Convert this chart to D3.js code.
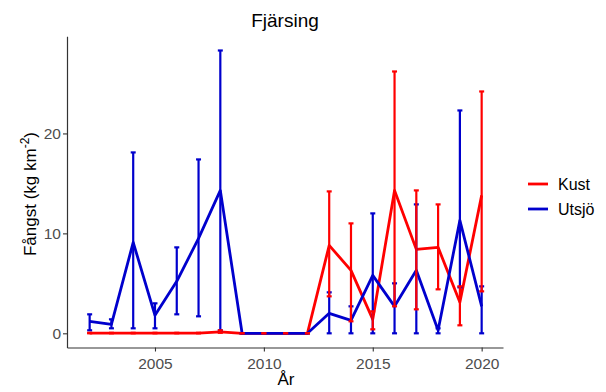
<!DOCTYPE html>
<html>
<head>
<meta charset="utf-8">
<script src="https://cdn.jsdelivr.net/npm/d3@7"></script>
<style>
  body { margin: 0; background: #fff; }
  text { font-family: "Liberation Sans", Arial, sans-serif; }
</style>
</head>
<body>
<svg width="606" height="392"></svg>
<script>
// data
const years = [2002, 2003, 2004, 2005, 2006, 2007, 2008, 2009, 2010, 2011,
               2012, 2013, 2014, 2015, 2016, 2017, 2018, 2019, 2020];
const kust   = [0.02, 0.02, 0.02, 0.02, 0.02, 0.02, 0.15, 0, 0, 0, 0, 8.8, 6.3, 1.4, 14.3, 8.4, 8.6, 3.1, 13.8];
const kustLo = [0, 0, 0, 0, 0, 0, 0.05, 0, 0, 0, 0, 3.7, 1.2, 0.4, 2.7, 2.4, 4.4, 0.8, 4.2];
const kustHi = [0.05, 0.05, 0.05, 0.05, 0.05, 0.05, 0.3, 0, 0, 0, 0, 14.2, 11.0, 2.2, 26.2, 14.3, 12.9, 4.7, 24.2];
const utsjo   = [1.2, 0.9, 9.1, 1.8, 5.2, 9.5, 14.3, 0, 0, 0, 0, 2.0, 1.3, 5.8, 2.7, 6.3, 0.3, 11.3, 2.7];
const utsjoLo = [0.3, 0.5, 0.5, 0.5, 1.9, 1.7, 0.3, 0, 0, 0, 0, 0, 0, 0, 0, 0, 0, 4.6, 0];
const utsjoHi = [1.9, 1.4, 18.1, 3.0, 8.6, 17.4, 28.3, 0, 0, 0, 0, 4.1, 2.7, 12.0, 5.0, 12.9, 0.5, 22.3, 4.7];
const yTicks = [0, 10, 20];
const xTicks = [2005, 2010, 2015, 2020];

const series = [
  { name: "Kust",  color: "#ff0000", v: kust,  lo: kustLo,  hi: kustHi },
  { name: "Utsjö", color: "#0000cd", v: utsjo, lo: utsjoLo, hi: utsjoHi }
];

const svg = d3.select("svg");
const x = d3.scaleLinear().domain([2000.96, 2020.98]).range([67, 503]);
const y = d3.scaleLinear().domain([-1.42, 29.72]).range([347.5, 36.3]);

// lines: red first, blue on top
const line = d3.line().x((d, i) => x(years[i])).y(d => y(d));
series.forEach(s => {
  svg.append("path")
    .attr("d", line(s.v))
    .attr("fill", "none")
    .attr("stroke", s.color)
    .attr("stroke-width", 2.8)
    .attr("stroke-linejoin", "round");
});

// error bars: blue first, then red on top
[series[1], series[0]].forEach(s => {
  const g = svg.append("g").attr("stroke", s.color).attr("stroke-width", 2.2);
  years.forEach((yr, i) => {
    const cx = x(yr);
    g.append("line").attr("x1", cx).attr("x2", cx).attr("y1", y(s.lo[i])).attr("y2", y(s.hi[i]));
    g.append("line").attr("x1", cx - 2.5).attr("x2", cx + 2.5).attr("y1", y(s.lo[i])).attr("y2", y(s.lo[i]));
    g.append("line").attr("x1", cx - 2.5).attr("x2", cx + 2.5).attr("y1", y(s.hi[i])).attr("y2", y(s.hi[i]));
  });
});

// axes
const xAxis = svg.append("g")
  .attr("transform", "translate(0,347.5)")
  .call(d3.axisBottom(x).tickValues(xTicks).tickFormat(d3.format("d")).tickSize(4).tickSizeOuter(0));
const yAxis = svg.append("g")
  .attr("transform", "translate(67,0)")
  .call(d3.axisLeft(y).tickValues(yTicks).tickSize(4).tickSizeOuter(0));
[xAxis, yAxis].forEach(a => {
  a.select(".domain").attr("stroke", "#333").attr("stroke-width", 1.2);
  a.selectAll(".tick line").attr("stroke", "#333").attr("stroke-width", 1.1);
  a.selectAll(".tick text").attr("fill", "#4d4d4d").style("font-size", "15.5px")
    .style("font-family", "'Liberation Sans', Arial, sans-serif");
});
xAxis.selectAll(".tick text").attr("dy", null).attr("y", 21);
yAxis.selectAll(".tick text").attr("x", -6);

// titles
svg.append("text").attr("x", 285).attr("y", 27).attr("text-anchor", "middle")
  .style("font-size", "19px").attr("fill", "#000").text("Fjärsing");
svg.append("text").attr("x", 286).attr("y", 385).attr("text-anchor", "middle")
  .style("font-size", "17px").attr("fill", "#000").text("År");
const yl = svg.append("text")
  .attr("transform", "translate(36,194) rotate(-90)")
  .attr("text-anchor", "middle")
  .style("font-size", "17px").attr("fill", "#000");
yl.append("tspan").text("Fångst (kg km");
yl.append("tspan").attr("dy", -7).style("font-size", "12px").text("-2");
yl.append("tspan").attr("dy", 7).text(")");

// legend
series.forEach((s, i) => {
  const ly = 184 + i * 25;
  svg.append("line").attr("x1", 528).attr("x2", 548).attr("y1", ly).attr("y2", ly)
    .attr("stroke", s.color).attr("stroke-width", 2.8);
  svg.append("text").attr("x", 558).attr("y", ly + 6)
    .style("font-size", "16px").attr("fill", "#000").text(s.name);
});
</script>
</body>
</html>
